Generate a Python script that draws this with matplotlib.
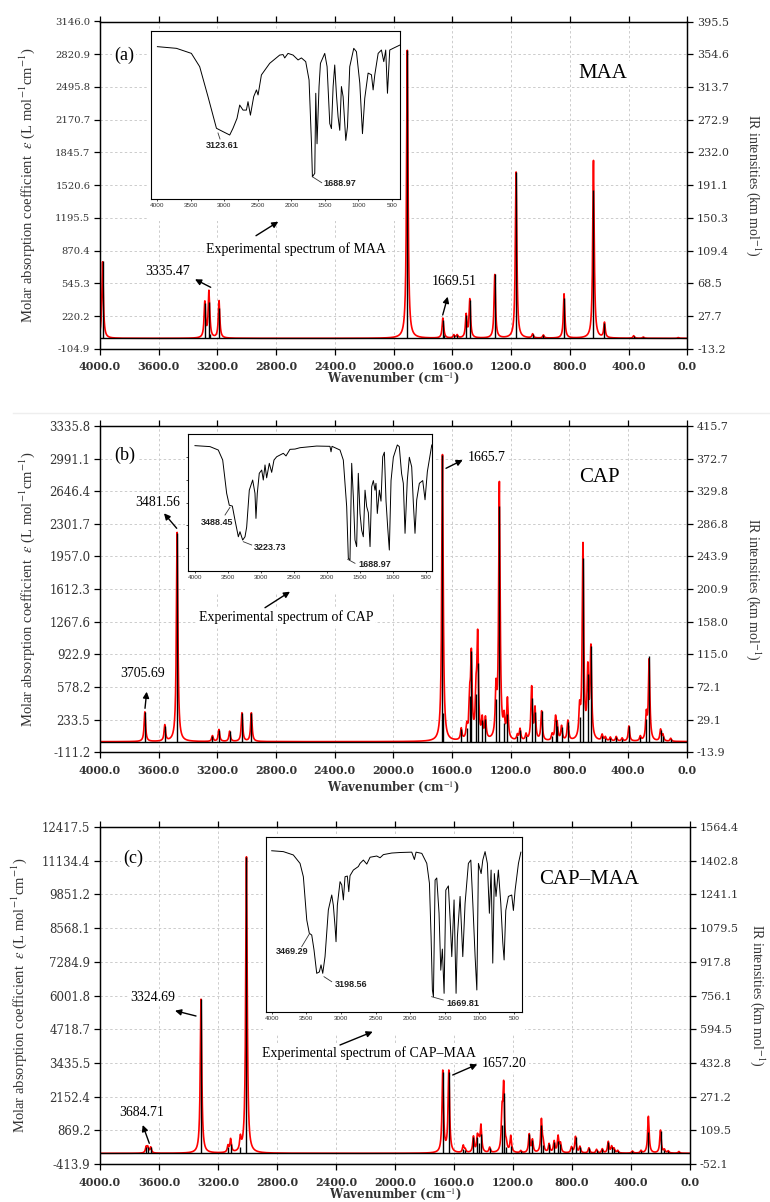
import numpy as np
import matplotlib.pyplot as plt
from matplotlib.patches import Rectangle, FancyArrowPatch
from matplotlib.lines import Line2D

plt.rcParams['mathtext.fontset'] = 'stix'

W, H = 770, 1202

# ---------------- data ----------------
xticks = [4000, 3600, 3200, 2800, 2400, 2000, 1600, 1200, 800, 400, 0]
xtick_labels = ['4000.0', '3600.0', '3200.0', '2800.0', '2400.0', '2000.0',
                '1600.0', '1200.0', '800.0', '400.0', '0.0']

# (a) MAA : computed bands (cm-1), IR intensity (km/mol), molar absorption peak
maa_wn = [3982, 3286, 3258, 3252, 3189, 1907, 1665, 1660, 1590, 1567, 1506, 1481,
          1311, 1166, 1053, 980, 839, 639, 564, 365, 299, 60]
maa_ir = [96, 44, 45, 6, 38, 360, 23, 4, 4, 4, 29, 48,
          80, 208, 5, 4, 50, 185, 19, 3, 1.5, 1]
maa_eps = [760, 350, 440, 40, 370, 2860, 180, 30, 30, 30, 225, 380,
           630, 1650, 40, 30, 440, 1765, 150, 25, 12, 8]
maa_left = ['-104.9', '220.2', '545.3', '870.4', '1195.5', '1520.6', '1845.7',
            '2170.7', '2495.8', '2820.9', '3146.0']
maa_right = ['-13.2', '27.7', '68.5', '109.4', '150.3', '191.1', '232.0',
             '272.9', '313.7', '354.6', '395.5']

# (b) CAP
cap_wn = [3694, 3558, 3474, 3233, 3189, 3116, 3032, 2968, 1665, 1660, 1537, 1499,
          1479, 1468, 1436, 1425, 1394, 1372, 1300, 1277, 1245, 1222, 1154, 1136,
          1095, 1057, 1034, 989, 917, 894, 883, 853, 810, 730, 707, 674, 653, 576,
          554, 520, 480, 440, 394, 316, 275, 256, 178, 162, 109]
cap_ir = [39, 21, 275, 7.5, 15.7, 13.5, 37.6, 37.6, 377, 38, 16, 18,
          60, 120, 63, 104, 28, 30, 56, 310, 25, 37, 7, 15,
          8, 58, 39, 40, 8, 28, 20, 19, 26, 32, 242, 89, 126, 8,
          5, 5, 6, 4, 20, 6, 30, 113, 15, 8, 4]
cap_eps = [313, 169, 2210, 60, 126, 108, 302, 302, 3030, 0, 120, 130,
           380, 850, 420, 1050, 200, 220, 480, 2700, 200, 420, 56, 120,
           64, 560, 330, 310, 64, 230, 150, 150, 210, 290, 2050, 700, 950, 64,
           40, 40, 48, 32, 160, 48, 260, 850, 120, 64, 32]
cap_left = ['-111.2', '233.5', '578.2', '922.9', '1267.6', '1612.3', '1957.0',
            '2301.7', '2646.4', '2991.1', '3335.8']
cap_right = ['-13.9', '29.1', '72.1', '115.0', '158.0', '200.9', '243.9',
             '286.8', '329.8', '372.7', '415.7']

# (c) CAP-MAA
cm_wn = [3687, 3676, 3656, 3315, 3132, 3114, 3048, 3007, 1676, 1635, 1537, 1524,
         1468, 1441, 1431, 1417, 1358, 1274, 1263, 1245, 1215, 1147, 1090, 1068,
         1007, 995, 955, 921, 894, 878, 803, 776, 746, 685, 633, 594, 554, 531,
         515, 490, 390, 332, 282, 200, 173, 147, 75]
cm_ir = [28, 28, 28, 738, 31, 47, 31, 1419, 391, 391, 21, 15,
         79, 76, 50, 93, 25, 135, 287, 30, 35, 10, 92, 63,
         135, 40, 43, 55, 59, 45, 28, 79, 30, 25, 18, 20, 55, 30,
         20, 12, 10, 12, 103, 108, 15, 10, 8]
cm_eps = [220, 220, 220, 5860, 250, 500, 480, 11270, 3100, 3100, 270, 120,
          600, 560, 380, 1000, 200, 1350, 2420, 240, 620, 80, 700, 480,
          1250, 300, 330, 430, 620, 340, 220, 620, 240, 200, 140, 160, 430, 240,
          160, 95, 80, 95, 1400, 870, 120, 80, 64]
cm_left = ['-413.9', '869.2', '2152.4', '3435.5', '4718.7', '6001.8', '7284.9',
           '8568.1', '9851.2', '11134.4', '12417.5']
cm_right = ['-52.1', '109.5', '271.2', '432.8', '594.5', '756.1', '917.8',
            '1079.5', '1241.1', '1402.8', '1564.4']

# experimental FTIR spectra (insets): wavenumber, transmittance (%)
maa_exp_wn = [4000, 3716, 3493, 3369, 3245, 3119, 3021, 2921, 2872, 2812, 2772, 2722,
              2672, 2648, 2612, 2563, 2522, 2498, 2448, 2324, 2175, 2125, 2100, 2051,
              1976, 1901, 1851, 1787, 1737, 1701, 1687, 1652, 1637, 1618, 1588, 1567,
              1503, 1468, 1428, 1403, 1378, 1354, 1328, 1304, 1279, 1254, 1229, 1189,
              1164, 1130, 1070, 1030, 980, 940, 906, 856, 806, 781, 756, 706, 657,
              622, 593, 567, 533, 483, 384]
maa_exp_T = [90.7, 89.7, 86.7, 78.8, 61, 42.2, 40.2, 38.2, 42.2, 48.1, 56, 53,
             53, 58, 50, 61, 65, 62, 73.9, 80.8, 85.7, 86, 84, 86.7,
             85.7, 82.8, 84, 81.8, 70.9, 33.3, 13.4, 15.4, 63, 33, 67, 80.8,
             86.7, 78.8, 45, 42, 67, 79.8, 62, 49, 41, 67, 61, 35,
             43, 78.8, 89.7, 87.7, 69, 39, 60, 75, 74, 65, 74, 86.7, 88.7,
             81.8, 88.7, 63, 88.7, 89.7, 91.6]

cap_exp_wn = [4000, 3773, 3647, 3580, 3520, 3480, 3434, 3394, 3343, 3318, 3277, 3242,
              3217, 3177, 3126, 3091, 3076, 3056, 3026, 2989, 2965, 2939, 2914, 2874,
              2838, 2803, 2762, 2662, 2621, 2561, 2485, 2409, 2157, 1955, 1939, 1924,
              1803, 1753, 1702, 1677, 1652, 1626, 1601, 1576, 1551, 1526, 1500, 1475,
              1450, 1424, 1399, 1374, 1348, 1323, 1298, 1273, 1258, 1238, 1207, 1182,
              1156, 1131, 1106, 1081, 1056, 1030, 995, 935, 905, 870, 844, 818,
              784, 753, 717, 692, 667, 641, 601, 550, 515, 480, 413]
cap_exp_T = [91.5, 90.8, 88.3, 81, 56.7, 48, 47.4, 37.2, 25, 28.7, 22.6, 25,
             32, 59, 66.4, 56.7, 38.4, 56.7, 71.3, 73.7, 66.4, 77.4, 68, 78.6,
             72, 81, 83.4, 85.9, 84, 88.8, 89, 90, 91.2, 91, 87, 91,
             88.3, 81, 47, 9.3, 8, 78.6, 54, 22.6, 17.8, 71.3, 42, 29.8,
             25, 59, 47, 42.6, 17.8, 61.6, 66, 59, 64, 42, 59, 51,
             83.4, 86.7, 51, 32, 15.3, 66, 83, 92, 90.8, 71, 64, 27.5,
             66, 83, 76, 49.4, 27.5, 52, 64, 66, 52, 72.5, 92]

cm_exp_wn = [4000, 3832, 3688, 3591, 3543, 3494, 3457, 3422, 3389, 3350, 3312, 3288,
             3263, 3230, 3182, 3133, 3110, 3085, 3071, 3052, 3013, 2988, 2965, 2941,
             2908, 2887, 2869, 2821, 2749, 2724, 2676, 2627, 2579, 2483, 2435, 2387,
             2266, 2146, 1977, 1939, 1915, 1832, 1760, 1722, 1698, 1679, 1664, 1640,
             1616, 1583, 1558, 1535, 1510, 1485, 1448, 1423, 1399, 1366, 1337, 1318,
             1279, 1240, 1207, 1159, 1124, 1095, 1062, 1037, 1014, 975, 951, 918,
             885, 856, 831, 807, 784, 760, 726, 691, 662, 643, 619, 581, 533, 509,
             484, 436, 401]
cm_exp_T = [92, 91.5, 89.6, 84.8, 77.2, 52.6, 45, 44, 35.5, 22.2, 23, 27,
            22.2, 31.7, 58.3, 66.8, 61, 48.7, 40.2, 61, 74.4, 72.5, 64, 77.2,
            77.6, 68.7, 77.8, 81, 83, 84.8, 86.7, 84.4, 88.3, 89, 88, 89.8,
            90.7, 91, 91.2, 87, 91.2, 90.5, 84.8, 73.5, 43, 12.7, 8.9, 75.3,
            76.5, 56.4, 24, 36, 10.8, 69.6, 72, 53, 31.7, 64, 10.8, 43,
            66, 31.7, 62, 84.8, 86.7, 62, 31.7, 12.7, 84.8, 79, 86.7, 91.5,
            84.8, 56.4, 81, 28, 79, 66, 81, 62, 39.6, 29.8, 58, 66, 66.8, 58,
            69.6, 84.8, 91.2]
inset_xticks = [4000, 3500, 3000, 2500, 2000, 1500, 1000, 500]

GAMMA = 6.0   # half width of the lorentzian broadening (cm-1)
TXT = '#333333'


def rect(l, t, r, b):
    # pixel box -> figure fraction [left, bottom, width, height]
    return [l / W, 1 - b / H, (r - l) / W, (b - t) / H]


def fp(x, y):
    return (x / W, 1 - y / H)


fig = plt.figure(figsize=(7.7, 12.02), dpi=100)


def panel(box, wn, ir, eps, left_lbl, right_lbl, lfs, ylab_x, rlab_x, xlab_y):
    l, t, r, b = box
    ax = fig.add_axes(rect(l, t, r, b))
    lo, hi = float(left_lbl[0]), float(left_lbl[-1])
    ax.set_xlim(4000, 0)
    ax.set_ylim(lo, hi)

    nu = np.linspace(0, 4000, 16001)
    curve = np.zeros_like(nu)
    for p, a in zip(wn, eps):
        curve += a * GAMMA ** 2 / ((nu - p) ** 2 + GAMMA ** 2)
    ax.plot(nu, curve, color='#ff0000', lw=1.2, zorder=2)

    ax.set_xticks(xticks)
    ax.set_xticklabels(xtick_labels, family='DejaVu Serif', fontweight='bold',
                       fontsize=8, color=TXT)
    ax.set_yticks(np.linspace(lo, hi, 11))
    ax.set_yticklabels(left_lbl, family='DejaVu Serif', fontsize=lfs, color=TXT)
    ax.grid(True, color='#cccccc', ls=(0, (2.5, 2.5)), lw=0.7)
    ax.tick_params(direction='out', length=4, width=0.9, top=True, pad=3)
    ax.tick_params(axis='x', pad=5)
    for s in ax.spines.values():
        s.set_linewidth(0.9)

    ax.set_xlabel('Wavenumber (cm$^{-1}$)', family='DejaVu Serif',
                  fontweight='bold', fontsize=8.5, color=TXT)
    ax.xaxis.label.set_va('center')
    ax.xaxis.set_label_coords(0.5, (b - xlab_y) / (b - t))
    ax.set_ylabel('Molar absorption coefficient  $\\varepsilon$ (L mol$^{-1}$cm$^{-1}$)',
                  family='Liberation Serif', fontsize=10.5, color=TXT)
    ax.yaxis.label.set_va('center')
    ax.yaxis.set_label_coords((ylab_x - l) / (r - l), 0.5)

    ax2 = ax.twinx()
    rlo, rhi = float(right_lbl[0]), float(right_lbl[-1])
    ax2.set_ylim(rlo, rhi)
    ax2.vlines(wn, 0, ir, color='black', lw=1.0, zorder=3)
    ax2.axhline(0, color='black', lw=1.0, zorder=3)
    ax2.set_yticks(np.linspace(rlo, rhi, 11))
    ax2.set_yticklabels(right_lbl, family='DejaVu Serif', fontsize=8, color=TXT)
    ax2.tick_params(direction='out', length=4, width=0.9, pad=3)
    for s in ax2.spines.values():
        s.set_linewidth(0.9)
    ax2.set_ylabel('IR intensities (km mol$^{-1}$)', family='Liberation Serif',
                   fontsize=10, color=TXT, rotation=270)
    ax2.yaxis.label.set_va('center')
    ax2.yaxis.set_label_coords((rlab_x - l) / (r - l), 0.5)
    return ax, ax2


def inset(box, wn, T, xlim, yticks=False):
    l, t, r, b = box
    # white backing (the inset picture hides the grid beneath it)
    fig.add_artist(Rectangle(fp(l - 3, b + 22), (r - l + 6) / W, (b - t + 24) / H,
                             transform=fig.transFigure, facecolor='white',
                             edgecolor='none', zorder=1))
    ia = fig.add_axes(rect(l, t, r, b), zorder=2)
    ia.plot(wn, T, color='black', lw=0.7)
    ia.set_xlim(*xlim)
    ia.set_ylim(0, 100)
    ia.set_xticks(inset_xticks)
    ia.set_xticklabels([str(v) for v in inset_xticks], family='Liberation Sans',
                       fontsize=4.6, color=TXT)
    ia.tick_params(axis='x', direction='out', length=1.5, width=0.5, pad=1.5)
    if yticks:
        ia.set_yticks([16.7, 33.3, 50, 66.7, 83.3])
        ia.set_yticklabels([])
        ia.tick_params(axis='y', direction='out', length=1.5, width=0.5)
    else:
        ia.set_yticks([])
    for s in ia.spines.values():
        s.set_linewidth(0.8)
    return ia


def label(x, y, s, size=10):
    fig.text(*fp(x, y), s, ha='center', va='center', fontsize=size,
             family='Liberation Serif', color='black', zorder=5,
             bbox=dict(facecolor='white', edgecolor='none', pad=1.5))


def arrow(x0, y0, x1, y1):
    fig.add_artist(FancyArrowPatch(
        fp(x0, y0), fp(x1, y1), transform=fig.transFigure, arrowstyle='-|>',
        mutation_scale=9, lw=1.0, color='black', shrinkA=0, shrinkB=0, zorder=6))


def lead(x0, y0, x1, y1):
    fig.add_artist(Line2D([x0 / W, x1 / W], [1 - y0 / H, 1 - y1 / H],
                          transform=fig.transFigure, color='#333333', lw=0.6, zorder=6))


def bold_small(x, y, s):
    fig.text(*fp(x, y), s, ha='center', va='center', fontsize=6.5,
             family='Liberation Sans', fontweight='bold', color='#222222', zorder=6)


# ---------------- panel (a) ----------------
panel((100, 21.5, 687.3, 348.9), maa_wn, maa_ir, maa_eps, maa_left, maa_right,
      7.2, 27, 753, 378)
inset((150.7, 31, 400, 199.3), maa_exp_wn, maa_exp_T, (4100, 380))
label(124, 55, '(a)', 13)
label(603, 73, 'MAA', 15)
label(296, 249, 'Experimental spectrum of MAA', 10)
arrow(256, 235.7, 278.3, 221.7)
label(168, 271.7, '3335.47', 10)
arrow(210.7, 287.3, 195, 279.3)
label(454, 281.7, '1669.51', 10)
arrow(442.7, 315, 447.7, 296.7)
bold_small(222, 146, '3123.61')
lead(218, 133, 220, 139)
bold_small(340, 184, '1688.97')
lead(312.3, 176.7, 321.7, 182.7)

# separator between the first two figure parts
fig.add_artist(Line2D([13 / W, 1], [1 - 413 / H, 1 - 413 / H], transform=fig.transFigure,
                      color='#eeeeee', lw=1.0, zorder=0))

# ---------------- panel (b) ----------------
panel((100, 426, 686.7, 752.2), cap_wn, cap_ir, cap_eps, cap_left, cap_right,
      8.5, 27, 753, 787)
inset((188.3, 434, 432.3, 571), cap_exp_wn, cap_exp_T, (4101, 405), yticks=True)
label(125, 455, '(b)', 13)
label(599, 477, 'CAP', 15)
label(286, 617, 'Experimental spectrum of CAP', 10)
arrow(265, 607.7, 290, 591.7)
label(486.5, 457.3, '1665.7', 10)
arrow(446, 468.3, 462.7, 460)
label(158, 502.7, '3481.56', 10)
arrow(176.7, 528.3, 164, 513.3)
label(142.7, 674, '3705.69', 10)
arrow(145, 708.3, 146.7, 691.7)
bold_small(217, 522.3, '3488.45')
lead(225, 515, 230, 507.3)
bold_small(270, 547.3, '3223.73')
lead(243.3, 541.7, 251.7, 545)
bold_small(375, 564.3, '1688.97')
lead(347.7, 559.3, 355, 563.3)

# ---------------- panel (c) ----------------
panel((100, 827, 690, 1164.2), cm_wn, cm_ir, cm_eps, cm_left, cm_right,
      8.5, 19, 757, 1194)
inset((265.7, 836.7, 521.7, 1012.3), cm_exp_wn, cm_exp_T, (4087, 389))
label(133, 858, '(c)', 13)
label(589, 880, 'CAP\u2013MAA', 15)
label(368.7, 1052.7, 'Experimental spectrum of CAP\u2013MAA', 10)
arrow(340, 1045, 372.7, 1031.7)
label(152.5, 997.7, '3324.69', 10)
arrow(196, 1016, 175, 1010.7)
label(142, 1112.3, '3684.71', 10)
arrow(149.3, 1143.3, 142.7, 1125)
label(504, 1063.3, '1657.20', 10)
arrow(452.7, 1075, 477.3, 1064.3)
bold_small(292, 951.7, '3469.29')
lead(301.7, 946.7, 309.3, 934)
bold_small(351, 984.3, '3198.56')
lead(324, 976.7, 331.7, 981.7)
bold_small(463, 1004, '1669.81')
lead(431.7, 996.7, 443.3, 1000)

fig.savefig('out.png', dpi=100)
